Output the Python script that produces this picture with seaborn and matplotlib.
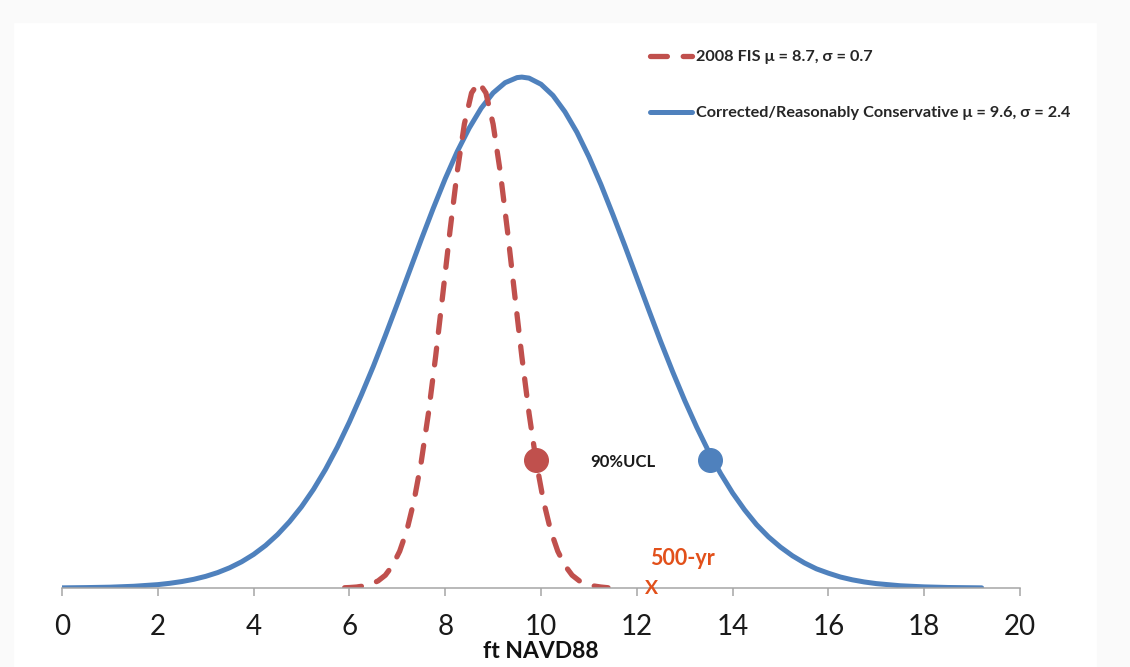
import numpy as np
import pandas as pd
import matplotlib
matplotlib.use("Agg")
import matplotlib.pyplot as plt
import matplotlib.patches as mpatches
from matplotlib.lines import Line2D
import seaborn as sns

# curve heights (peak of the blue curve = 1)
blue_x = [0, 0.5, 1, 1.5, 2, 2.25, 2.5, 2.75, 3, 3.25, 3.5, 3.75, 4, 4.25, 4.5, 4.75,
          5, 5.25, 5.5, 5.75, 6, 6.25, 6.5, 6.75, 7, 7.25, 7.5, 7.75, 8, 8.25, 8.5, 8.75,
          9, 9.25, 9.5, 9.6, 9.75, 10, 10.25, 10.5, 10.75, 11, 11.25, 11.5, 11.75, 12,
          12.25, 12.5, 12.75, 13, 13.25, 13.5, 13.75, 14, 14.25, 14.5, 14.75, 15, 15.25,
          15.5, 15.75, 16, 16.25, 16.5, 16.75, 17, 17.5, 18, 18.5, 19, 19.2]
blue_y = [0.0003, 0.0008, 0.0016, 0.0034, 0.0066, 0.0092, 0.0126, 0.0170, 0.0228, 0.0302,
          0.0396, 0.0513, 0.0657, 0.0833, 0.1046, 0.1298, 0.159, 0.193, 0.232, 0.276,
          0.325, 0.378, 0.434, 0.494, 0.556, 0.619, 0.682, 0.743, 0.801, 0.854, 0.900,
          0.939, 0.969, 0.989, 0.999, 1.0, 0.998, 0.986, 0.964, 0.932, 0.892, 0.844,
          0.790, 0.731, 0.670, 0.607, 0.544, 0.482, 0.423, 0.367, 0.315, 0.267, 0.224,
          0.186, 0.153, 0.124, 0.100, 0.080, 0.063, 0.049, 0.0375, 0.029, 0.0215, 0.016,
          0.0118, 0.0086, 0.0044, 0.0022, 0.0010, 0.0005, 0.0003]

red_x = [5.9, 6.0, 6.15, 6.3, 6.45, 6.6, 6.75, 6.9, 7.05, 7.2, 7.35, 7.5, 7.65, 7.8,
         7.95, 8.1, 8.25, 8.4, 8.55, 8.7, 8.85, 9.0, 9.15, 9.3, 9.45, 9.6, 9.75, 9.9,
         10.05, 10.2, 10.35, 10.5, 10.65, 10.8, 10.95, 11.1, 11.25, 11.4]
red_y = [0.0005, 0.0009, 0.0019, 0.004, 0.0075, 0.014, 0.025, 0.044, 0.072, 0.113,
         0.171, 0.247, 0.342, 0.453, 0.575, 0.699, 0.814, 0.908, 0.969, 0.99, 0.969,
         0.908, 0.814, 0.699, 0.575, 0.453, 0.342, 0.247, 0.171, 0.113, 0.072, 0.044,
         0.025, 0.014, 0.0075, 0.004, 0.0019, 0.0005]

ucl_x = [9.9, 13.53]
ucl_y = [0.25, 0.25]
x500 = 12.3

xticks = list(range(0, 21, 2))
red_label = "2008 FIS \u03bc = 8.7, \u03c3 = 0.7"
blue_label = "Corrected/Reasonably Conservative \u03bc = 9.6, \u03c3 = 2.4"

RED = "#C0504D"
BLUE = "#4F81BD"
ORANGE = "#E2501A"

sns.set_style("white")
plt.rcParams['font.family'] = ['Lato', 'DejaVu Sans']

fig = plt.figure(figsize=(11.3, 6.67), dpi=100)
# faint grey frame of the screenshot
for rect in [(0, 0, 13 / 1130, 1), (1097 / 1130, 0, 33 / 1130, 1), (0, 1 - 22 / 667, 1, 22 / 667)]:
    fig.patches.append(mpatches.Rectangle(rect[:2], rect[2], rect[3], transform=fig.transFigure,
                                          color="#FAFAFA", zorder=0))

ax = fig.add_axes([62 / 1130, 79 / 667, 958 / 1130, 562 / 667])
ax.set_facecolor("none")

blue_df = pd.DataFrame({"x": blue_x, "y": blue_y})
red_df = pd.DataFrame({"x": red_x, "y": red_y})

sns.lineplot(data=blue_df, x="x", y="y", color=BLUE, linewidth=3.6, ax=ax,
             solid_capstyle="round", solid_joinstyle="round")
sns.lineplot(data=red_df, x="x", y="y", color=RED, linewidth=3.8, ax=ax)
red_line = ax.lines[-1]
red_line.set_dashes((3.2, 3.0))
red_line.set_dash_capstyle("round")

ax.plot(ucl_x[0], ucl_y[0], "o", color=RED, markersize=17, zorder=5)
ax.plot(ucl_x[1], ucl_y[1], "o", color=BLUE, markersize=17, zorder=5)

ax.text(11.02, 0.247, "90%UCL", fontsize=12, fontweight="bold", color="#1a1a1a",
        ha="left", va="center")
ax.text(12.28, 0.058, "500-yr", fontsize=15.5, fontweight="bold", color=ORANGE,
        ha="left", va="center")
ax.text(x500, 0.0, "X", fontsize=14, fontweight="bold", color=ORANGE,
        ha="center", va="center")

ax.set_xlim(0, 20)
ax.set_ylim(0, 1.1)
ax.set_xticks(xticks)
ax.set_yticks([])
ax.set_ylabel("")
ax.set_xlabel("ft NAVD88", fontsize=16.5, fontweight="bold", color="#111111", labelpad=0.5)
ax.tick_params(axis="x", direction="out", length=6, width=1.1, color="#A6A6A6",
               labelsize=20, labelcolor="#1a1a1a", pad=13, bottom=True)
for side in ["left", "right", "top"]:
    ax.spines[side].set_visible(False)
ax.spines["bottom"].set_color("#A6A6A6")
ax.spines["bottom"].set_linewidth(1.1)

handles = [Line2D([], [], color=RED, linewidth=3.8, dashes=(3.2, 3.0), dash_capstyle="round"),
           Line2D([], [], color=BLUE, linewidth=3.6)]
ax.legend(handles, [red_label, blue_label], loc="upper left",
          bbox_to_anchor=(650 / 1130, 1 - 50 / 667), bbox_transform=fig.transFigure,
          frameon=False, borderpad=0, borderaxespad=0, handlelength=2.6,
          handletextpad=0.2, labelspacing=2.55,
          prop={"size": 11.7, "weight": "bold"})

fig.savefig("out.png", dpi=100)
